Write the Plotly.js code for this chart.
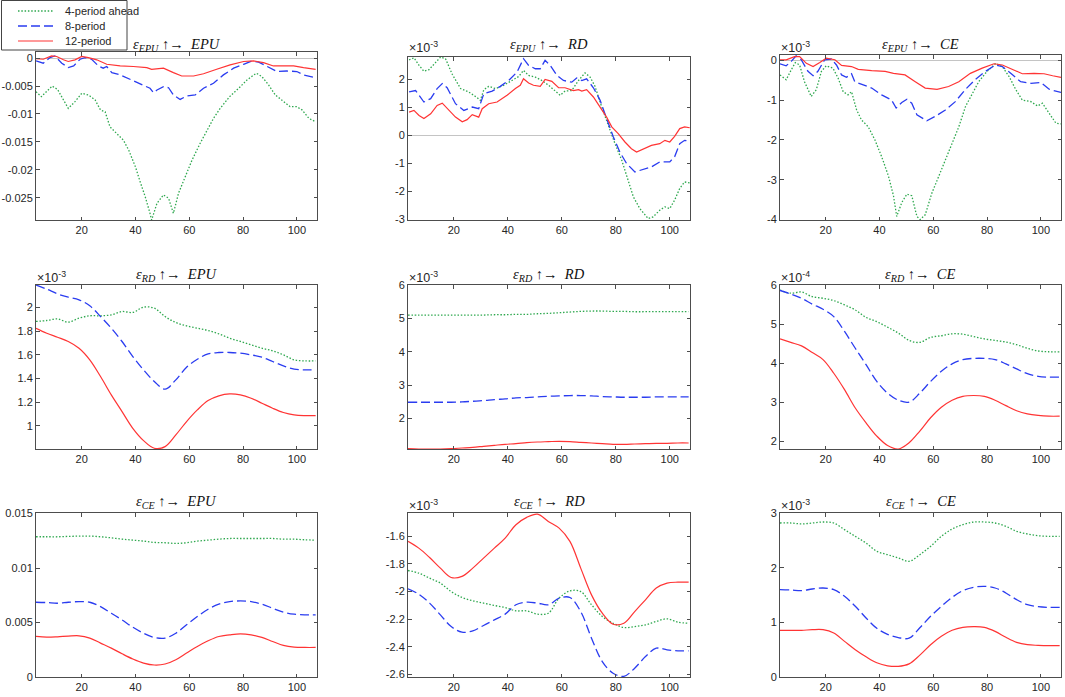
<!DOCTYPE html>
<html>
<head>
<meta charset="utf-8">
<script src="https://cdn.plot.ly/plotly-3.0.1.min.js"></script>
<style>html,body{margin:0;padding:0;background:#fff}#chart{width:1065px;height:697px}</style>
</head>
<body>
<div id="chart"></div>
<script>
// ---------- DATA ----------
const seriesNames = ['4-period ahead', '8-period', '12-period'];
const shockNames = ['EPU', 'RD', 'CE'];
const xTicks = [20, 40, 60, 80, 100];

// Panel 1: eps_EPU -> EPU
const p1_gx = [3,5,9,11,15,17.5,20,22.5,25,27,28.7,30.5,33,35.5,37.5,40,41.7,43.6,45.4,46,48,50.4,52.3,54.1,56,58.5,61,64,66.5,69,71.5,75,79,81.5,84,85,87,89.5,92,94.5,97.5,100,102,104.5,107];
const p1_gy = [-0.0060,-0.0069,-0.0050,-0.0056,-0.0090,-0.0078,-0.0063,-0.0066,-0.0075,-0.0093,-0.0096,-0.0123,-0.0135,-0.0147,-0.0165,-0.0195,-0.0221,-0.0248,-0.0278,-0.0290,-0.0260,-0.0245,-0.0251,-0.0278,-0.0242,-0.0212,-0.0183,-0.0153,-0.0129,-0.0108,-0.0090,-0.0069,-0.0051,-0.0039,-0.0030,-0.0027,-0.0033,-0.0048,-0.0066,-0.0075,-0.0087,-0.0087,-0.0093,-0.0108,-0.0114];
const p1_bx = [3,5.7,8.2,10,12.6,15,17,19.4,21.2,23.7,26.2,28,29.3,31.2,34.3,38,41.7,45.4,46.7,48,50.4,52.3,54.1,56.6,59,62.2,65.3,69,72.7,76.5,80.2,83.3,85.8,89,92.6,96.3,100,102.5,107];
const p1_by = [-0.0005,-0.0009,0.0001,0.0004,-0.0009,-0.0017,-0.0014,-0.0002,0.0001,-0.0002,-0.0014,-0.0018,-0.0015,-0.0026,-0.0030,-0.0038,-0.0045,-0.0054,-0.0062,-0.0057,-0.0051,-0.0053,-0.0066,-0.0074,-0.0068,-0.0066,-0.0054,-0.0045,-0.0030,-0.0018,-0.0011,-0.0005,-0.0007,-0.0015,-0.0024,-0.0023,-0.0024,-0.0030,-0.0035];
const p1_rx = [3,5.7,8.8,10.7,13.2,15,17.5,20,22.5,25.6,29.3,34.3,39.2,44.2,46,50.4,54.1,57.2,61.6,65.3,70.2,75.2,80.2,83.9,87.6,91.3,95,98.8,102.5,107];
const p1_ry = [-0.0001,-0.0002,0.0004,0.0003,-0.0003,-0.0006,-0.0003,0.0003,0.0001,-0.0003,-0.0011,-0.0014,-0.0015,-0.0017,-0.0020,-0.0018,-0.0026,-0.0032,-0.0032,-0.0028,-0.0020,-0.0012,-0.0006,-0.0005,-0.0008,-0.0014,-0.0014,-0.0014,-0.0017,-0.0020];

// Panel 2: eps_EPU -> RD (x 10^-3)
const p2_gx = [3.4,5.2,7.1,8.9,10.8,13.2,15.1,16.9,19.4,22.5,25.5,28.6,29.8,31.1,32.9,35.4,38.5,41.5,44,45.8,47.7,50.2,52.6,55.1,57.5,59.4,61.2,63.7,66.2,68.6,70.5,72.3,74.8,77.2,79.7,82.2,84.6,86.5,88.9,92,93.8,96.3,98.2,100,101.8,103.7,105.5,107.4];
const p2_gy = [2.70,2.77,2.50,2.29,2.35,2.62,2.80,2.74,2.18,1.67,1.55,1.35,1.25,1.63,1.75,1.67,1.79,1.96,2.10,2.32,2.14,2.08,1.96,1.79,1.60,1.43,1.58,1.60,1.96,2.23,2.08,1.75,1.01,0.36,-0.30,-0.89,-1.67,-2.20,-2.62,-2.98,-2.92,-2.68,-2.56,-2.62,-2.32,-1.90,-1.67,-1.70];
const p2_bx = [3.4,5.8,8.9,11.4,13.8,15.7,17.5,20.6,23.7,26.8,29.2,31.1,34.2,37.2,40.3,43.4,45.8,47.7,50.2,52,53.8,55.7,58.2,60.6,63.7,65.5,67.4,69.2,71.7,74.2,76.6,79.1,81.5,84,87.1,90.2,93.2,96.3,100,101.8,103.7,105.5,107.4];
const p2_by = [1.55,1.60,1.19,1.31,1.67,1.85,1.70,1.13,0.89,1.01,0.95,1.49,1.58,1.75,1.96,2.26,2.74,2.50,2.38,2.38,2.68,2.50,2.14,1.96,1.90,2.05,1.96,2.02,1.70,1.25,0.60,-0.06,-0.60,-1.01,-1.31,-1.23,-1.13,-0.95,-0.95,-0.77,-0.30,-0.18,-0.21];
const p2_rx = [3.4,5.2,7.1,8.9,11.4,13.8,15.7,18.2,20.6,23.1,24.9,26.8,29.2,30.5,32.9,36,39.7,42.8,44.6,45.8,47.7,49.5,52,53.8,56.3,58.8,61.2,64.3,66.2,67.4,69.2,71.7,74.2,76.6,78.5,80.9,83.4,85.8,87.7,90.2,93.2,96.3,98.2,100,101.8,103.7,105.5,107.4];
const p2_ry = [0.83,0.89,0.71,0.60,0.77,1.07,1.15,0.89,0.65,0.48,0.56,0.74,0.65,0.95,1.13,1.19,1.43,1.67,1.79,2.02,1.87,1.79,1.75,2.00,1.93,1.70,1.70,1.60,1.63,1.58,1.63,1.37,1.01,0.65,0.30,0.06,-0.24,-0.48,-0.60,-0.48,-0.36,-0.30,-0.18,-0.24,-0.04,0.24,0.30,0.27];

// Panel 3: eps_EPU -> CE (x 10^-3)
const p3_gx = [3,5.3,7.2,8.7,10.3,12.1,14.6,16.5,18.4,20.2,22.7,24.6,26.5,28.3,29.6,31.5,33.3,35.8,38.3,40.8,43.3,45.2,46.4,48.3,50.2,52,53.9,55.1,57,59.5,62,64.5,67,69.5,72,74.5,76.9,80,83.2,85.7,88.2,90.7,93.1,96.3,98.8,100.6,103.1,105.6,107.5];
const p3_gy = [-0.37,-0.49,-0.24,-0.06,-0.12,-0.54,-0.91,-0.74,-0.28,-0.14,-0.20,-0.45,-0.79,-0.87,-0.79,-1.25,-1.50,-1.67,-2.00,-2.42,-2.90,-3.40,-3.92,-3.57,-3.36,-3.40,-3.92,-4.00,-3.88,-3.33,-2.92,-2.50,-2.08,-1.67,-1.16,-0.83,-0.54,-0.28,-0.08,-0.16,-0.41,-0.74,-1.00,-1.04,-1.15,-1.08,-1.33,-1.58,-1.60];
const p3_bx = [3,5.3,7.2,9,10.9,13.4,15.3,17.1,19.6,22.1,24,25.9,27.7,29.6,30.8,34,37.1,40.8,44.5,46.2,48.3,50.2,52,53.9,57.6,60.7,64.5,68.2,72,75.7,79.4,83.2,85.7,88.8,92.5,96.3,100,103.1,107.5];
const p3_by = [-0.09,-0.14,-0.03,0.11,0.01,-0.28,-0.39,-0.28,0.01,0.03,-0.12,-0.37,-0.43,-0.34,-0.54,-0.62,-0.70,-0.87,-1.00,-1.20,-1.06,-0.98,-1.08,-1.37,-1.52,-1.41,-1.25,-1.04,-0.73,-0.48,-0.28,-0.12,-0.16,-0.33,-0.54,-0.58,-0.56,-0.73,-0.81];
const p3_rx = [3,5.3,8.4,10.3,12.8,15.3,17.8,20.2,23.4,25.9,29.6,32.1,37.1,42.1,45.2,49.5,53.3,57,61.4,65.7,69.5,73.8,78.2,82.6,85.7,89.4,93.1,97.5,101.2,104.4,107.5];
const p3_ry = [0.01,0.01,0.09,0.09,-0.08,-0.16,-0.06,0.05,0.01,-0.13,-0.16,-0.23,-0.26,-0.28,-0.33,-0.37,-0.54,-0.70,-0.73,-0.66,-0.54,-0.33,-0.20,-0.09,-0.12,-0.24,-0.34,-0.33,-0.34,-0.39,-0.43];

// Rows 2-3 share one horizon grid
const xGrid = [3,7,11,15,19,23,27,31,35,39,43,47,51,55,59,63,67,71,75,79,83,87,91,95,99,103,107];

// Panel 4: eps_RD -> EPU (x 10^-3)
const p4_g = [1.882,1.890,1.904,1.876,1.910,1.930,1.930,1.938,1.966,1.958,2.003,1.994,1.924,1.873,1.845,1.825,1.806,1.777,1.741,1.713,1.685,1.656,1.634,1.600,1.558,1.549,1.549];
const p4_b = [2.190,2.155,2.115,2.087,2.065,2.014,1.924,1.825,1.713,1.586,1.473,1.375,1.310,1.389,1.496,1.563,1.608,1.620,1.620,1.614,1.600,1.580,1.544,1.507,1.479,1.473,1.473];
const p4_r = [1.825,1.783,1.749,1.713,1.656,1.558,1.417,1.262,1.121,0.980,0.876,0.811,0.825,0.924,1.037,1.135,1.214,1.254,1.270,1.262,1.234,1.192,1.149,1.113,1.093,1.087,1.087];

// Panel 5: eps_RD -> RD (x 10^-3)
const p5_g = [5.10,5.10,5.10,5.10,5.10,5.10,5.10,5.10,5.11,5.11,5.12,5.12,5.14,5.15,5.17,5.19,5.21,5.22,5.22,5.21,5.21,5.20,5.20,5.20,5.20,5.20,5.20];
const p5_b = [2.49,2.49,2.49,2.49,2.49,2.50,2.52,2.54,2.57,2.59,2.62,2.63,2.65,2.67,2.68,2.69,2.69,2.68,2.66,2.65,2.64,2.64,2.64,2.65,2.65,2.65,2.65];
const p5_r = [1.10,1.09,1.09,1.09,1.10,1.12,1.14,1.17,1.20,1.23,1.25,1.28,1.30,1.31,1.32,1.31,1.29,1.27,1.25,1.23,1.23,1.24,1.25,1.26,1.26,1.27,1.27];

// Panel 6: eps_RD -> CE (x 10^-4)
const p6_g = [5.87,5.79,5.82,5.70,5.66,5.60,5.49,5.36,5.17,5.06,4.92,4.77,4.58,4.53,4.66,4.70,4.75,4.74,4.68,4.62,4.58,4.54,4.47,4.38,4.31,4.29,4.29];
const p6_b = [5.86,5.77,5.66,5.51,5.38,5.19,4.81,4.38,3.96,3.53,3.23,3.05,3.00,3.23,3.53,3.79,3.98,4.09,4.12,4.12,4.09,3.98,3.85,3.73,3.66,3.64,3.64];
const p6_r = [4.62,4.53,4.44,4.27,4.09,3.74,3.32,2.85,2.47,2.13,1.89,1.80,1.96,2.26,2.60,2.87,3.05,3.15,3.17,3.15,3.05,2.91,2.78,2.70,2.66,2.64,2.64];

// Panel 7: eps_CE -> EPU
const p7_g = [0.01287,0.01287,0.01287,0.01290,0.01293,0.01293,0.01287,0.01277,0.01265,0.01256,0.01247,0.01235,0.01232,0.01226,0.01232,0.01247,0.01256,0.01265,0.01271,0.01271,0.01271,0.01271,0.01271,0.01265,0.01265,0.01259,0.01256];
const p7_b = [0.00686,0.00683,0.00677,0.00686,0.00692,0.00686,0.00646,0.00585,0.00524,0.00457,0.00402,0.00363,0.00357,0.00402,0.00479,0.00555,0.00622,0.00668,0.00692,0.00698,0.00692,0.00668,0.00631,0.00595,0.00576,0.00570,0.00570];
const p7_r = [0.00372,0.00366,0.00369,0.00375,0.00378,0.00357,0.00311,0.00265,0.00213,0.00165,0.00128,0.00110,0.00119,0.00159,0.00220,0.00280,0.00332,0.00372,0.00387,0.00396,0.00387,0.00363,0.00326,0.00290,0.00274,0.00271,0.00271];

// Panel 8: eps_CE -> RD (x 10^-3)
const p8_g = [-1.847,-1.866,-1.903,-1.939,-2.000,-2.043,-2.067,-2.084,-2.101,-2.116,-2.140,-2.140,-2.164,-2.157,-2.048,-1.995,-2.000,-2.096,-2.181,-2.230,-2.261,-2.254,-2.242,-2.217,-2.198,-2.222,-2.230];
const p8_b = [-1.980,-2.019,-2.084,-2.169,-2.254,-2.295,-2.285,-2.246,-2.205,-2.164,-2.096,-2.077,-2.084,-2.096,-2.048,-2.043,-2.145,-2.338,-2.508,-2.593,-2.615,-2.556,-2.472,-2.411,-2.423,-2.430,-2.430];
const p8_r = [-1.636,-1.685,-1.753,-1.830,-1.898,-1.890,-1.830,-1.757,-1.685,-1.612,-1.515,-1.462,-1.438,-1.491,-1.540,-1.636,-1.830,-2.024,-2.157,-2.237,-2.230,-2.145,-2.060,-1.975,-1.939,-1.932,-1.932];

// Panel 9: eps_CE -> CE (x 10^-3)
const p9_g = [2.817,2.817,2.800,2.817,2.835,2.817,2.695,2.573,2.451,2.300,2.238,2.177,2.116,2.238,2.390,2.573,2.707,2.787,2.835,2.835,2.817,2.756,2.665,2.616,2.585,2.573,2.573];
const p9_b = [1.598,1.592,1.579,1.610,1.628,1.598,1.476,1.293,1.079,0.890,0.780,0.720,0.710,0.900,1.110,1.293,1.457,1.579,1.640,1.659,1.628,1.537,1.415,1.323,1.287,1.274,1.274];
const p9_r = [0.854,0.854,0.854,0.866,0.866,0.805,0.652,0.500,0.370,0.260,0.205,0.195,0.240,0.400,0.590,0.744,0.854,0.909,0.921,0.909,0.835,0.726,0.634,0.591,0.579,0.573,0.573];

// Y tick values / labels per panel
const p1_yt = [0,-0.005,-0.01,-0.015,-0.02,-0.025];
const p1_yl = ['0','-0.005','-0.01','-0.015','-0.02','-0.025'];
const p2_yt = [2,1,0,-1,-2,-3];
const p2_yl = ['2','1','0','-1','-2','-3'];
const p3_yt = [0,-1,-2,-3,-4];
const p3_yl = ['0','-1','-2','-3','-4'];
const p4_yt = [2,1.8,1.6,1.4,1.2,1];
const p4_yl = ['2','1.8','1.6','1.4','1.2','1'];
const p5_yt = [6,5,4,3,2];
const p5_yl = ['6','5','4','3','2'];
const p6_yt = [6,5,4,3,2];
const p6_yl = ['6','5','4','3','2'];
const p7_yt = [0.015,0.01,0.005,0];
const p7_yl = ['0.015','0.01','0.005','0'];
const p8_yt = [-1.6,-1.8,-2,-2.2,-2.4,-2.6];
const p8_yl = ['-1.6','-1.8','-2','-2.2','-2.4','-2.6'];
const p9_yt = [3,2,1,0];
const p9_yl = ['3','2','1','0'];

// ---------- BUILD ----------
const W = 1065, H = 697;
const px = v => v / W;
const py = v => 1 - v / H;

const colors = ['#2fa84f', '#2a3cf0', '#ff3434'];
const dashes = ['1.5px,1.8px', '9px,4px', 'solid'];
const widths = [1.3, 1.3, 1.2];

const colPx = [[36, 317], [408, 690], [780, 1061]];
const rowPx = [[[52, 220], [57, 220], [55, 220]], [285, 449], [513, 677]];
const titleY = [45, 275, 502];
const expY = [47, 277, 505];

const panels = [
  {from: 0, to: 0, s: [[p1_gx, p1_gy], [p1_bx, p1_by], [p1_rx, p1_ry]], yr: [-0.029, 0.0011], yt: p1_yt, yl: p1_yl, exp: null, zero: true, shape: 'linear'},
  {from: 0, to: 1, s: [[p2_gx, p2_gy], [p2_bx, p2_by], [p2_rx, p2_ry]], yr: [-3.03, 2.8], yt: p2_yt, yl: p2_yl, exp: '-3', zero: true, shape: 'linear'},
  {from: 0, to: 2, s: [[p3_gx, p3_gy], [p3_bx, p3_by], [p3_rx, p3_ry]], yr: [-4.01, 0.13], yt: p3_yt, yl: p3_yl, exp: '-3', zero: true, shape: 'linear'},
  {from: 1, to: 0, s: [[xGrid, p4_g], [xGrid, p4_b], [xGrid, p4_r]], yr: [0.805, 2.19], yt: p4_yt, yl: p4_yl, exp: '-3', zero: false, shape: 'spline'},
  {from: 1, to: 1, s: [[xGrid, p5_g], [xGrid, p5_b], [xGrid, p5_r]], yr: [1.09, 6.0], yt: p5_yt, yl: p5_yl, exp: '-3', zero: false, shape: 'spline'},
  {from: 1, to: 2, s: [[xGrid, p6_g], [xGrid, p6_b], [xGrid, p6_r]], yr: [1.8, 6.0], yt: p6_yt, yl: p6_yl, exp: '-4', zero: false, shape: 'spline'},
  {from: 2, to: 0, s: [[xGrid, p7_g], [xGrid, p7_b], [xGrid, p7_r]], yr: [0, 0.01505], yt: p7_yt, yl: p7_yl, exp: null, zero: false, shape: 'spline'},
  {from: 2, to: 1, s: [[xGrid, p8_g], [xGrid, p8_b], [xGrid, p8_r]], yr: [-2.62, -1.43], yt: p8_yt, yl: p8_yl, exp: '-3', zero: false, shape: 'spline'},
  {from: 2, to: 2, s: [[xGrid, p9_g], [xGrid, p9_b], [xGrid, p9_r]], yr: [0, 3.0], yt: p9_yt, yl: p9_yl, exp: '-3', zero: false, shape: 'spline'}
];

const sansFont = '"Liberation Sans", Arial, sans-serif';
const traces = [];
const layout = {
  width: W, height: H,
  margin: {l: 0, r: 0, t: 0, b: 0},
  paper_bgcolor: '#ffffff', plot_bgcolor: '#ffffff',
  showlegend: false,
  font: {family: sansFont, size: 11, color: '#262626'},
  annotations: [], shapes: []
};

const axisCommon = {
  showgrid: false, showline: true, linecolor: '#4d4d4d', linewidth: 1,
  mirror: 'ticks', ticks: 'inside', ticklen: 3.5, tickwidth: 1, tickcolor: '#4d4d4d',
  tickfont: {family: sansFont, size: 11, color: '#262626'},
  fixedrange: true
};

panels.forEach((p, i) => {
  const r = Math.floor(i / 3), c = i % 3;
  const [x0, x1] = colPx[c];
  const [yTop, yBot] = r === 0 ? rowPx[0][c] : rowPx[r];
  const n = i + 1;
  const xa = 'xaxis' + (n === 1 ? '' : n), ya = 'yaxis' + (n === 1 ? '' : n);
  const xr = 'x' + (n === 1 ? '' : n), yr = 'y' + (n === 1 ? '' : n);
  layout[xa] = Object.assign({}, axisCommon, {
    domain: [px(x0), px(x1)], anchor: yr, range: [3, 107.5],
    tickmode: 'array', tickvals: xTicks, ticktext: xTicks.map(String), zeroline: false
  });
  layout[ya] = Object.assign({}, axisCommon, {
    domain: [py(yBot), py(yTop)], anchor: xr, range: p.yr,
    tickmode: 'array', tickvals: p.yt, ticktext: p.yl,
    zeroline: p.zero, zerolinecolor: '#c4c4c4', zerolinewidth: 1
  });
  p.s.forEach((sr, k) => {
    traces.push({
      type: 'scatter', mode: 'lines', x: sr[0], y: sr[1], xaxis: xr, yaxis: yr,
      name: seriesNames[k], showlegend: false, hoverinfo: 'skip', cliponaxis: true,
      line: {color: colors[k], width: widths[k], dash: dashes[k], shape: p.shape, smoothing: 1}
    });
  });
  // subplot title
  const f = shockNames[p.from], t = shockNames[p.to];
  layout.annotations.push({
    xref: 'paper', yref: 'paper', x: px((x0 + x1) / 2), y: py(titleY[r]),
    xanchor: 'center', yanchor: 'middle', showarrow: false,
    text: '<i>ε</i><sub><i>' + f + '</i></sub> ↑→\u00a0 <i>' + t + '</i>',
    font: {family: '"Liberation Serif", "Times New Roman", serif', size: 14.5, color: '#111'}
  });
  if (p.exp) {
    layout.annotations.push({
      xref: 'paper', yref: 'paper', x: px(x0 - 1), y: py(expY[r]),
      xanchor: 'left', yanchor: 'middle', showarrow: false,
      text: '×10<sup>' + p.exp + '</sup>',
      font: {family: sansFont, size: 12.5, color: '#262626'}
    });
  }
});

// legend box (drawn in the top-left corner like the MATLAB legend)
layout.shapes.push({type: 'rect', xref: 'paper', yref: 'paper', x0: px(1.5), x1: px(127), y0: py(50), y1: py(0.5),
  line: {color: '#444', width: 1}, fillcolor: '#ffffff', layer: 'above'});
const legY = [11, 26, 41];
seriesNames.forEach((nm, k) => {
  layout.shapes.push({type: 'line', xref: 'paper', yref: 'paper', x0: px(18), x1: px(53), y0: py(legY[k]), y1: py(legY[k]),
    line: {color: colors[k], width: widths[k], dash: dashes[k]}, layer: 'above'});
  layout.annotations.push({xref: 'paper', yref: 'paper', x: px(63), y: py(legY[k]), xanchor: 'left', yanchor: 'middle',
    showarrow: false, text: nm, font: {family: sansFont, size: 11, color: '#262626'}});
});

Plotly.newPlot('chart', traces, layout, {staticPlot: true, displayModeBar: false});
</script>
</body>
</html>
